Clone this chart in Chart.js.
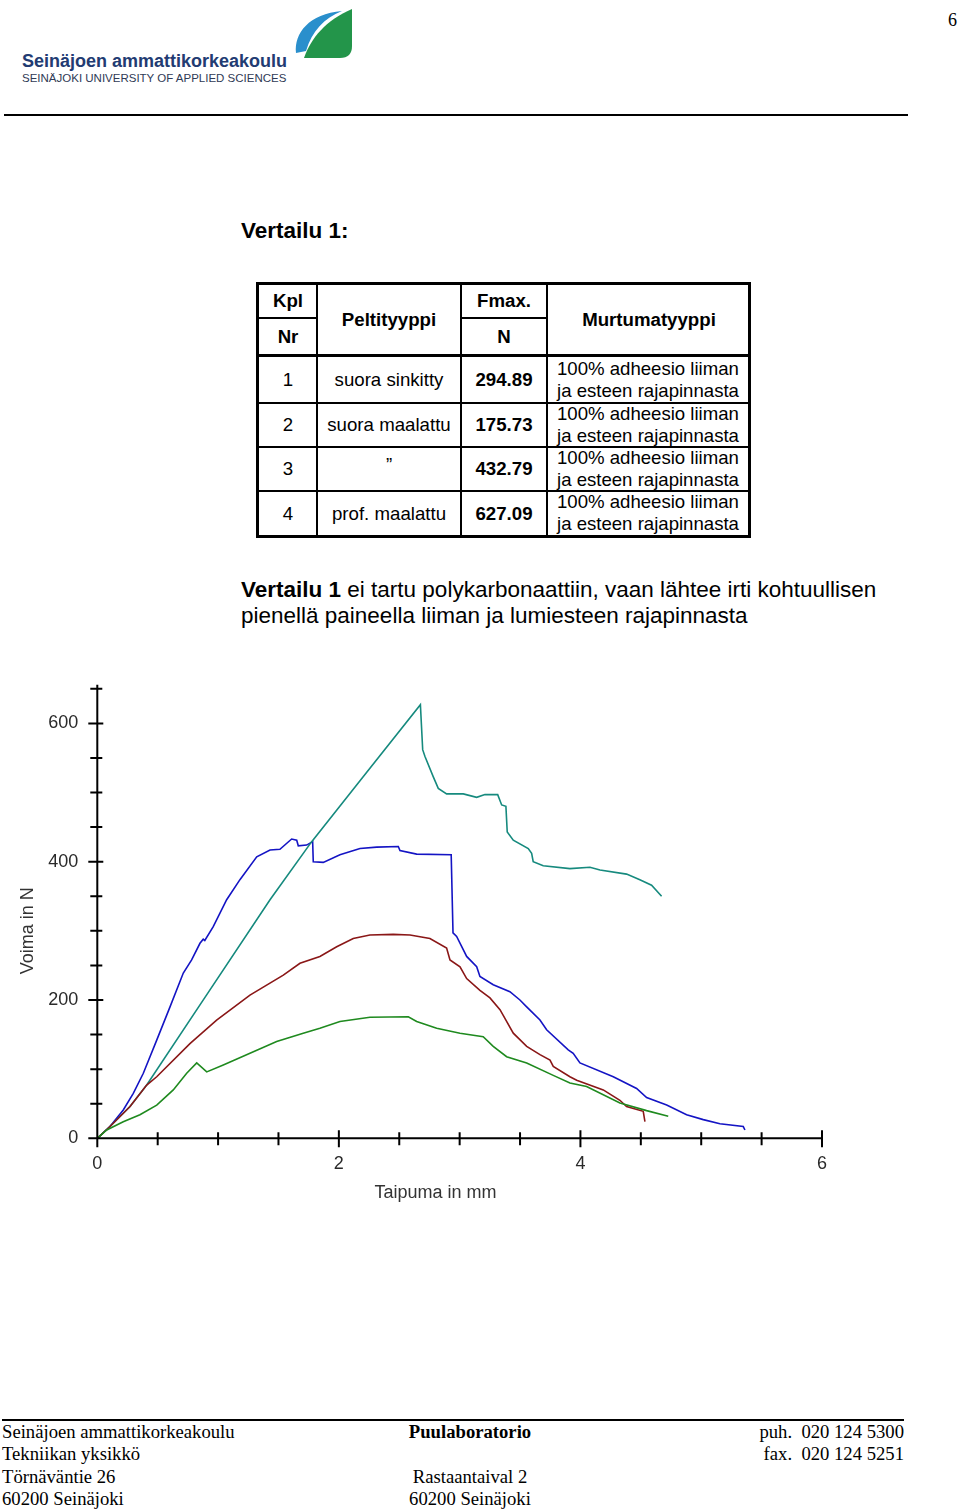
<!DOCTYPE html>
<html><head><meta charset="utf-8">
<script src="https://cdn.jsdelivr.net/npm/chart.js@4.4.0/dist/chart.umd.min.js"></script>
<style>
html,body{margin:0;padding:0;background:#fff;}
#page{position:relative;width:960px;height:1510px;overflow:hidden;font-family:"Liberation Sans",Arial,sans-serif;color:#000;}
.abs{position:absolute;white-space:nowrap;}
.ln{position:absolute;background:#000;}
.c{position:absolute;transform:translate(-50%,-50%);white-space:nowrap;text-align:center;line-height:1.15;}
.tb{font-size:18.67px;}
.b{font-weight:bold;}
.mt{position:absolute;left:557px;font-size:18.6px;line-height:21.5px;white-space:nowrap;}
.serif{position:absolute;font-family:"Liberation Serif","Times New Roman",serif;font-size:18.67px;line-height:22.4px;white-space:nowrap;}
#chartWrap{position:absolute;left:0;top:670px;width:860px;height:560px;}
</style></head><body><div id="page">

<!-- header -->
<svg class="abs" style="left:0;top:0" width="360" height="100" viewBox="0 0 360 100">
  <path d="M296,53 C294,33 309,14 342,11 C324,18 312,31 306,51 Z" fill="#2a8fcc"/>
  <path d="M304,58 C311,38 326,20 352,9 L352,46 Q352,58 340,58 Z" fill="#23954a"/>
</svg>
<div class="abs b" style="left:22px;top:51px;font-size:18px;color:#223b72;">Seinäjoen ammattikorkeakoulu</div>
<div class="abs" style="left:22px;top:72px;font-size:11.5px;color:#2f3a55;">SEINÄJOKI UNIVERSITY OF APPLIED SCIENCES</div>
<div class="abs" style="left:948px;top:10px;font-family:'Liberation Serif',serif;font-size:18px;">6</div>
<div class="ln" style="left:4px;top:114px;width:904px;height:2px;"></div>

<div class="abs b" style="left:241px;top:217px;font-size:22.5px;line-height:28px;">Vertailu 1:</div>

<!-- table -->
<div class="ln" style="left:256px;top:282px;width:495px;height:3px;"></div>
<div class="ln" style="left:256px;top:535px;width:495px;height:3px;"></div>
<div class="ln" style="left:256px;top:282px;width:3px;height:256px;"></div>
<div class="ln" style="left:748px;top:282px;width:3px;height:256px;"></div>
<div class="ln" style="left:316px;top:282px;width:2px;height:256px;"></div>
<div class="ln" style="left:460px;top:282px;width:2px;height:256px;"></div>
<div class="ln" style="left:546px;top:282px;width:2px;height:256px;"></div>
<div class="ln" style="left:256px;top:317px;width:61px;height:2px;"></div>
<div class="ln" style="left:460px;top:317px;width:88px;height:2px;"></div>
<div class="ln" style="left:256px;top:354px;width:495px;height:3px;"></div>
<div class="ln" style="left:256px;top:402px;width:495px;height:2px;"></div>
<div class="ln" style="left:256px;top:446px;width:495px;height:2px;"></div>
<div class="ln" style="left:256px;top:490px;width:495px;height:2px;"></div>

<div class="c tb b" style="left:288px;top:301px;">Kpl</div>
<div class="c tb b" style="left:288px;top:337px;">Nr</div>
<div class="c tb b" style="left:389px;top:320px;">Peltityyppi</div>
<div class="c tb b" style="left:504px;top:301px;">Fmax.</div>
<div class="c tb b" style="left:504px;top:337px;">N</div>
<div class="c tb b" style="left:649px;top:320px;">Murtumatyyppi</div>

<div class="c tb" style="left:288px;top:380px;">1</div>
<div class="c tb" style="left:389px;top:380px;">suora sinkitty</div>
<div class="c tb b" style="left:504px;top:380px;">294.89</div>
<div class="c tb" style="left:288px;top:425px;">2</div>
<div class="c tb" style="left:389px;top:425px;">suora maalattu</div>
<div class="c tb b" style="left:504px;top:425px;">175.73</div>
<div class="c tb" style="left:288px;top:469px;">3</div>
<div class="c tb" style="left:389px;top:465px;">”</div>
<div class="c tb b" style="left:504px;top:469px;">432.79</div>
<div class="c tb" style="left:288px;top:514px;">4</div>
<div class="c tb" style="left:389px;top:514px;">prof. maalattu</div>
<div class="c tb b" style="left:504px;top:514px;">627.09</div>

<div class="mt" style="top:358px;">100% adheesio liiman<br>ja esteen rajapinnasta</div>
<div class="mt" style="top:403px;">100% adheesio liiman<br>ja esteen rajapinnasta</div>
<div class="mt" style="top:447px;">100% adheesio liiman<br>ja esteen rajapinnasta</div>
<div class="mt" style="top:491px;">100% adheesio liiman<br>ja esteen rajapinnasta</div>

<div class="abs" style="left:241px;top:577px;font-size:22.5px;line-height:26px;"><b>Vertailu 1</b> ei tartu polykarbonaattiin, vaan lähtee irti kohtuullisen<br>pienellä paineella liiman ja lumiesteen rajapinnasta</div>

<div id="chartWrap"><canvas id="chart" width="860" height="560"></canvas></div>

<!-- footer -->
<div class="ln" style="left:2px;top:1419px;width:902px;height:2px;"></div>
<div class="serif" style="left:2px;top:1421px;">Seinäjoen ammattikorkeakoulu<br>Tekniikan yksikkö<br>Törnäväntie 26<br>60200 Seinäjoki</div>
<div class="serif" style="left:370px;width:200px;top:1421px;text-align:center;"><b>Puulaboratorio</b><br>&nbsp;<br>Rastaantaival 2<br>60200 Seinäjoki</div>
<div class="serif" style="left:704px;width:200px;top:1421px;text-align:right;">puh.&nbsp; 020 124 5300<br>fax.&nbsp; 020 124 5251</div>

</div>
<script>
// Taipuma (mm) and Voima (N)
const sinkittyX = [0, 0.105, 0.271, 0.409, 0.492, 0.767, 0.988, 1.264, 1.540, 1.678, 1.843, 1.982, 2.119, 2.257, 2.45, 2.589, 2.754, 2.892, 2.920, 3.003, 3.058, 3.168, 3.251, 3.334, 3.444, 3.555, 3.665, 3.748, 3.775, 3.913, 3.969, 4.189, 4.327, 4.382, 4.520, 4.534];
const sinkittyY = [0, 17, 46, 77, 89, 137, 171, 207, 236, 253, 263, 277, 289, 294, 294.9, 294, 289, 275, 258, 248, 231, 214, 203, 186, 152, 133, 121, 113, 104, 89, 84, 70, 55, 46, 39, 24];

const maalattuX = [0, 0.078, 0.215, 0.353, 0.492, 0.629, 0.740, 0.823, 0.906, 1.043, 1.264, 1.485, 1.705, 1.843, 2.009, 2.257, 2.575, 2.644, 2.810, 3.003, 3.195, 3.278, 3.389, 3.555, 3.775, 3.913, 4.051, 4.327, 4.548, 4.727];
const maalattuY = [0, 12, 24, 34, 48, 70, 94, 109, 96, 106, 123, 140, 152, 159, 169, 175, 175.7, 169, 159, 152, 147, 133, 118, 109, 91, 80, 75, 51, 40, 32];

const maalattu3X = [0, 0.105, 0.215, 0.298, 0.381, 0.492, 0.602, 0.712, 0.781, 0.850, 0.877, 0.890, 0.960, 1.071, 1.181, 1.320, 1.430, 1.512, 1.609, 1.651, 1.664, 1.733, 1.783, 1.788, 1.871, 2.009, 2.175, 2.313, 2.492, 2.506, 2.644, 2.930, 2.945, 2.975, 3.058, 3.141, 3.168, 3.278, 3.416, 3.499, 3.555, 3.665, 3.720, 3.899, 3.940, 3.996, 4.272, 4.465, 4.548, 4.714, 4.879, 5.017, 5.155, 5.348, 5.362];
const maalattu3Y = [0, 17, 41, 65, 94, 142, 190, 239, 258, 282, 288, 286, 306, 345, 374, 407, 417, 418, 432.8, 431, 423, 424, 429, 400, 399, 410, 419, 421, 422, 416, 411, 410, 297, 292, 263, 248, 234, 222, 212, 200, 190, 171, 157, 128, 123, 109, 89, 72, 59, 48, 34, 27, 21, 17, 12];

const profX = [0, 0.105, 0.271, 0.409, 0.919, 1.430, 1.775, 2.216, 2.675, 2.694, 2.713, 2.781, 2.823, 2.892, 3.030, 3.141, 3.209, 3.315, 3.348, 3.383, 3.394, 3.444, 3.568, 3.596, 3.609, 3.692, 3.913, 4.079, 4.162, 4.382, 4.492, 4.589, 4.672];
const profY = [0, 17, 46, 77, 211, 345, 429, 526, 627.1, 562, 552, 523, 506, 498, 498, 493, 497, 497, 482, 480, 443, 431, 419, 412, 400, 394, 390, 392, 388, 382, 374, 366, 350];

const xTicks = { min: 0, max: 6, step: 0.5, labelEvery: 2 };
const yTicks = { min: 0, max: 650, step: 50, labelEvery: 200 };
const xTitle = 'Taipuma in mm';
const yTitle = 'Voima in N';

const seriesList = [
  { label: '2 suora maalattu', xs: maalattuX, ys: maalattuY, color: '#1f8a1f' },
  { label: '1 suora sinkitty', xs: sinkittyX, ys: sinkittyY, color: '#8a1717' },
  { label: '4 prof. maalattu', xs: profX, ys: profY, color: '#168a7e' },
  { label: '3 suora maalattu', xs: maalattu3X, ys: maalattu3Y, color: '#1414c4' }
];

const FONT = '"Liberation Sans", Arial, sans-serif';
const isMult = (v, m) => Math.abs(v / m - Math.round(v / m)) < 1e-6;

const axisPlugin = {
  id: 'axisPlugin',
  afterDatasetsDraw(chart) {
    const { ctx, chartArea: a, scales: { x, y } } = chart;
    ctx.save();
    ctx.strokeStyle = '#000';
    ctx.lineWidth = 2;
    ctx.beginPath();
    ctx.moveTo(a.left, a.top - 4); ctx.lineTo(a.left, a.bottom + 2);
    ctx.moveTo(a.left - 9, a.bottom); ctx.lineTo(a.right, a.bottom);
    y.ticks.forEach(t => {
      const py = y.getPixelForValue(t.value);
      const major = isMult(t.value, yTicks.labelEvery);
      ctx.moveTo(a.left - (major ? 9 : 7), py); ctx.lineTo(a.left + (major ? 6 : 5), py);
    });
    x.ticks.forEach(t => {
      const px = x.getPixelForValue(t.value);
      const major = isMult(t.value, xTicks.labelEvery);
      ctx.moveTo(px, a.bottom - (major ? 8 : 6)); ctx.lineTo(px, a.bottom + (major ? 9 : 7));
    });
    ctx.stroke();
    ctx.fillStyle = '#333';
    ctx.font = '18px ' + FONT;
    ctx.textAlign = 'center';
    ctx.textBaseline = 'middle';
    ctx.fillText(xTitle, x.getPixelForValue(2.8), a.bottom + 55);
    ctx.translate(28, y.getPixelForValue(300));
    ctx.rotate(-Math.PI / 2);
    ctx.fillText(yTitle, 0, 0);
    ctx.restore();
  }
};

new Chart(document.getElementById('chart'), {
  type: 'scatter',
  data: {
    datasets: seriesList.map(s => ({
      label: s.label,
      data: s.xs.map((v, i) => ({ x: v, y: s.ys[i] })),
      showLine: true,
      borderColor: s.color,
      backgroundColor: s.color,
      borderWidth: 1.6,
      pointRadius: 0,
      tension: 0
    }))
  },
  options: {
    responsive: false,
    animation: false,
    devicePixelRatio: 1,
    layout: { padding: { left: 0, right: 38, top: 18.8, bottom: 0 } },
    plugins: { legend: { display: false }, tooltip: { enabled: false } },
    scales: {
      x: {
        type: 'linear', min: xTicks.min, max: xTicks.max,
        afterFit(s) { s.height = 91.7; s.paddingLeft = 0; s.paddingRight = 0; },
        grid: { display: false, drawTicks: false },
        border: { display: false },
        ticks: {
          stepSize: xTicks.step, autoSkip: false, maxRotation: 0, padding: 15,
          color: '#2a2a2a', font: { family: FONT, size: 18 },
          callback: v => isMult(v, xTicks.labelEvery) ? String(Math.round(v)) : ''
        }
      },
      y: {
        type: 'linear', min: yTicks.min, max: yTicks.max,
        afterFit(s) { s.width = 97.3; s.paddingTop = 0; s.paddingBottom = 0; },
        grid: { display: false, drawTicks: false },
        border: { display: false },
        ticks: {
          stepSize: yTicks.step, autoSkip: false, padding: 19,
          color: '#2a2a2a', font: { family: FONT, size: 18 },
          callback: v => isMult(v, yTicks.labelEvery) ? String(Math.round(v)) : ''
        }
      }
    }
  },
  plugins: [axisPlugin]
});
</script>
</body></html>
